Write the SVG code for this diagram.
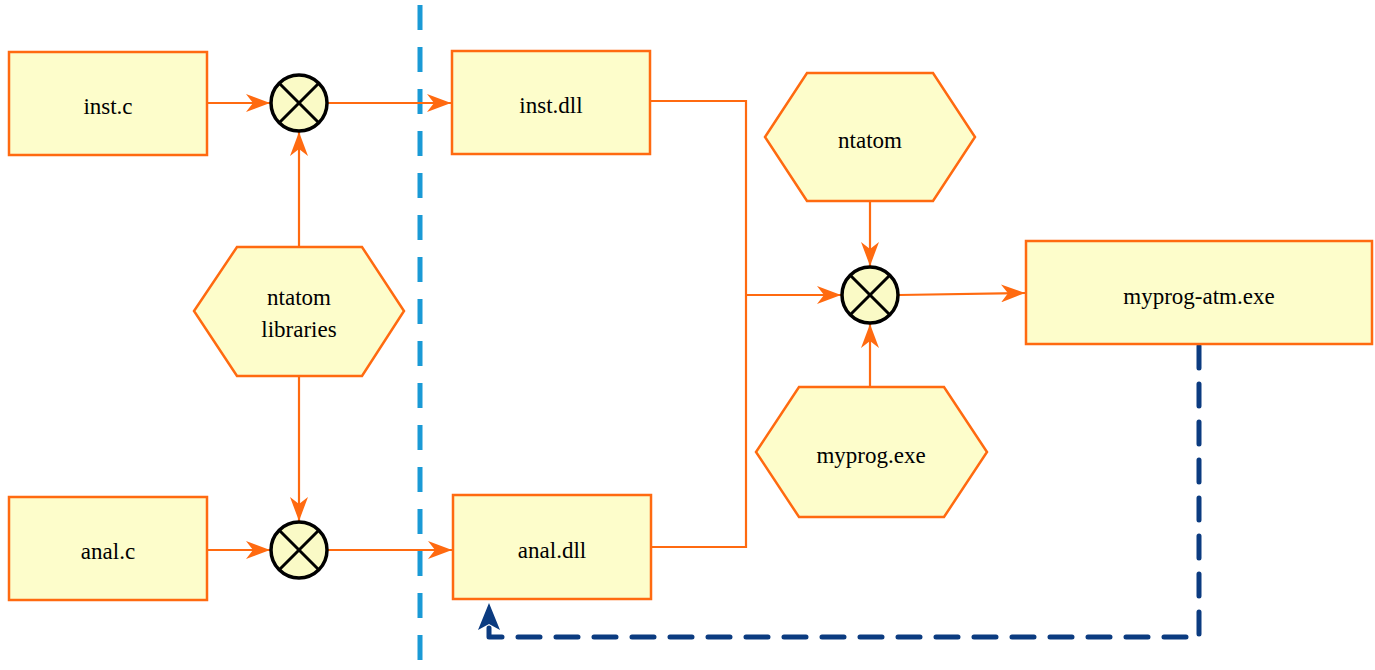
<svg xmlns="http://www.w3.org/2000/svg" width="1375" height="670" viewBox="0 0 1375 670">
<style>
.box{fill:#fdfdcb;stroke:#ff6a10;stroke-width:2.5}
.hex{fill:#fdfdcb;stroke:#ff6a10;stroke-width:2.5}
.op{fill:#fafac6;stroke:#000;stroke-width:3.5}
.x{stroke:#000;stroke-width:3}
text{font-family:"Liberation Serif","Times New Roman",serif;font-size:23px;fill:#000;text-anchor:middle}
.c{fill:none;stroke:#ff6a10;stroke-width:2.2}
</style>
<defs>
<marker id="ah" markerUnits="userSpaceOnUse" viewBox="0 0 24 18" refX="24" refY="9" markerWidth="24" markerHeight="18" orient="auto">
<path d="M0,0 L24,9 L0,18 L7,9 Z" fill="#ff6a10"/>
</marker>
</defs>
<line x1="420" y1="5" x2="420" y2="670" stroke="#1a9ad6" stroke-width="5" stroke-dasharray="25,17"/>
<g id="connectors">
<line class="c" x1="207" y1="103" x2="270" y2="103" marker-end="url(#ah)"/>
<line class="c" x1="328" y1="103" x2="451" y2="103" marker-end="url(#ah)"/>
<line class="c" x1="299" y1="247" x2="299" y2="132" marker-end="url(#ah)"/>
<line class="c" x1="299" y1="376" x2="299" y2="521" marker-end="url(#ah)"/>
<line class="c" x1="207" y1="550" x2="270" y2="550" marker-end="url(#ah)"/>
<line class="c" x1="328" y1="550" x2="452" y2="550" marker-end="url(#ah)"/>
<polyline class="c" points="650,101 746,101 746,547 651,547"/>
<line class="c" x1="746" y1="295" x2="841" y2="295" marker-end="url(#ah)"/>
<line class="c" x1="870" y1="201" x2="870" y2="266" marker-end="url(#ah)"/>
<line class="c" x1="870" y1="387" x2="870" y2="324" marker-end="url(#ah)"/>
<line class="c" x1="899" y1="295" x2="1025" y2="293" marker-end="url(#ah)"/>
<polyline points="1199,346 1199,637 489,637 489,626" fill="none" stroke="#0b3b80" stroke-width="5" stroke-linecap="round" stroke-linejoin="round" stroke-dasharray="22,16"/>
<path d="M489,603 L500,630 L489,624 L478,630 Z" fill="#0b3b80"/>
</g>
<g id="inst_c"><rect class="box" x="9" y="52" width="198" height="103"/><text x="108" y="114">inst.c</text></g>
<g id="anal_c"><rect class="box" x="9" y="497" width="198" height="103"/><text x="108" y="559">anal.c</text></g>
<g id="inst_dll"><rect class="box" x="452" y="51" width="198" height="103"/><text x="551" y="113">inst.dll</text></g>
<g id="anal_dll"><rect class="box" x="453" y="495" width="198" height="104"/><text x="552" y="558">anal.dll</text></g>
<g id="myprog_atm"><rect class="box" x="1026" y="241" width="346" height="103"/><text x="1199" y="304">myprog-atm.exe</text></g>
<g id="op1"><circle class="op" cx="299" cy="103" r="28"/><line class="x" x1="279" y1="83" x2="319" y2="123"/><line class="x" x1="319" y1="83" x2="279" y2="123"/></g>
<g id="op2"><circle class="op" cx="299" cy="550" r="28"/><line class="x" x1="279" y1="530" x2="319" y2="570"/><line class="x" x1="319" y1="530" x2="279" y2="570"/></g>
<g id="op3"><circle class="op" cx="870" cy="295" r="28"/><line class="x" x1="850" y1="275" x2="890" y2="315"/><line class="x" x1="890" y1="275" x2="850" y2="315"/></g>
<g id="ntatom_libraries"><polygon class="hex" points="237,247 362,247 404,311 362,376 237,376 194,311"/><text x="299" y="305">ntatom</text><text x="299" y="337">libraries</text></g>
<g id="ntatom"><polygon class="hex" points="807,73 933,73 975,137 933,201 807,201 765,137"/><text x="870" y="148">ntatom</text></g>
<g id="myprog_exe"><polygon class="hex" points="799,387 944,387 987,452 944,517 799,517 756,452"/><text x="871" y="463">myprog.exe</text></g>
</svg>
